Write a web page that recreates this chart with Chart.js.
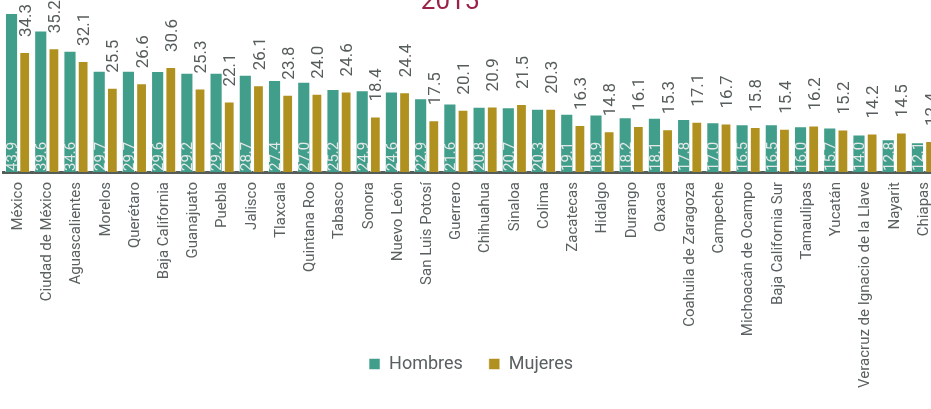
<!DOCTYPE html>
<html>
<head>
<meta charset="utf-8">
<script src="https://cdn.jsdelivr.net/npm/chart.js@4.4.0/dist/chart.umd.min.js"></script>
<style>
  body { margin: 0; background: #fff; overflow: hidden; }
  #grafica { position: absolute; left: 0; top: -20px; }
</style>
</head>
<body>
<canvas id="grafica" width="952" height="430"></canvas>
<script>
// --- datos --- //
let estados = ['México', 'Ciudad de México', 'Aguascalientes', 'Morelos', 'Querétaro', 'Baja California',
  'Guanajuato', 'Puebla', 'Jalisco', 'Tlaxcala', 'Quintana Roo', 'Tabasco', 'Sonora', 'Nuevo León',
  'San Luis Potosí', 'Guerrero', 'Chihuahua', 'Sinaloa', 'Colima', 'Zacatecas', 'Hidalgo', 'Durango',
  'Oaxaca', 'Coahuila de Zaragoza', 'Campeche', 'Michoacán de Ocampo', 'Baja California Sur',
  'Tamaulipas', 'Yucatán', 'Veracruz de Ignacio de la Llave', 'Nayarit', 'Chiapas'];

let hombres = [43.9, 39.6, 34.6, 29.7, 29.7, 29.6, 29.2, 29.2, 28.7, 27.4, 27.0, 25.2, 24.9, 24.6,
  22.9, 21.6, 20.8, 20.7, 20.3, 19.1, 18.9, 18.2, 18.1, 17.8, 17.0, 16.5, 16.5, 16.0, 15.7, 14.0, 12.8, 12.1];

let mujeres = [34.3, 35.2, 32.1, 25.5, 26.6, 30.6, 25.3, 22.1, 26.1, 23.8, 24.0, 24.6, 18.4, 24.4,
  17.5, 20.1, 20.9, 21.5, 20.3, 16.3, 14.8, 16.1, 15.3, 17.1, 16.7, 15.8, 15.4, 16.2, 15.2, 14.2, 14.5, 12.4];

let titulo = '2015';

Chart.defaults.font.family = 'Roboto';

// etiquetas de valores, giradas
let etiquetas = {
  id: 'etiquetas',
  afterDatasetsDraw(chart) {
    let ctx = chart.ctx;
    let base = chart.chartArea.bottom;
    chart.getDatasetMeta(0).data.forEach(function(bar, i) {
      ctx.save();
      ctx.font = '15px Roboto';
      ctx.fillStyle = '#e4e8e7';
      ctx.textAlign = 'left';
      ctx.textBaseline = 'alphabetic';
      ctx.translate(bar.x + 15 * 0.36, base - 1);
      ctx.rotate(-Math.PI / 2);
      ctx.fillText(hombres[i].toFixed(1), 0, 0);
      ctx.restore();
    });
    chart.getDatasetMeta(1).data.forEach(function(bar, i) {
      ctx.save();
      ctx.font = '17px Roboto';
      ctx.fillStyle = '#575d5c';
      ctx.textAlign = 'left';
      ctx.textBaseline = 'alphabetic';
      ctx.translate(bar.x + 17 * 0.36, bar.y - 15);
      ctx.rotate(-Math.PI / 2);
      ctx.fillText(mujeres[i].toFixed(1), 0, 0);
      ctx.restore();
    });
  },
  afterDraw(chart) {
    let ctx = chart.ctx;
    ctx.save();
    ctx.font = '26px Roboto';
    ctx.fillStyle = '#9b2247';
    ctx.textAlign = 'center';
    ctx.textBaseline = 'alphabetic';
    ctx.fillText(titulo, 450, 29);
    ctx.restore();
  }
};

let ctx = document.getElementById('grafica');

let miGrafica = new Chart(ctx, {
  type: 'bar',
  data: {
    labels: estados,
    datasets: [{
      label: 'Hombres',
      data: hombres,
      backgroundColor: '#409e8a',
      borderColor: 'rgba(255,255,255,0.55)',
      borderWidth: 1,
      barPercentage: 1.0,
      categoryPercentage: 0.9
    }, {
      label: 'Mujeres',
      data: mujeres,
      backgroundColor: '#b0901e',
      borderColor: 'rgba(255,255,255,0.55)',
      borderWidth: 1,
      barPercentage: 0.82,
      categoryPercentage: 0.9
    }]
  },
  options: {
    responsive: false,
    animation: false,
    devicePixelRatio: 1,
    layout: { padding: { top: 20, left: 3.5, right: 0, bottom: 27 } },
    scales: {
      x: {
        z: 1,
        grid: { display: false, drawTicks: false },
        border: { display: true, color: '#555d5b', width: 3 },
        ticks: {
          autoSkip: false,
          minRotation: 90,
          maxRotation: 90,
          padding: 10,
          color: '#5a6060',
          font: { size: 15 }
        },
        afterFit(scale) {
          // la leyenda va encima de las etiquetas largas
          scale.height = 157;
          scale._computeLabelArea = function() {};
        }
      },
      y: {
        display: false,
        beginAtZero: false,
        min: 4.75,
        max: 47.1
      }
    },
    plugins: {
      legend: {
        position: 'bottom',
        fullSize: false,
        labels: {
          boxWidth: 11,
          boxHeight: 11,
          padding: 26,
          color: '#5a6060',
          font: { size: 18 }
        }
      },
      tooltip: { enabled: false }
    }
  },
  plugins: [etiquetas]
});
</script>
</body>
</html>
